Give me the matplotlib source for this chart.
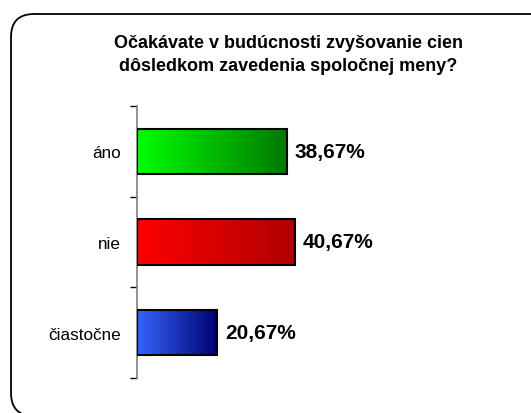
import numpy as np
import matplotlib
matplotlib.use("Agg")
import matplotlib.pyplot as plt
from matplotlib.colors import LinearSegmentedColormap
from matplotlib.patches import FancyBboxPatch

plt.rcParams['font.family'] = ['Liberation Sans', 'DejaVu Sans']

# Data
categories = ['áno', 'nie', 'čiastočne']
values = [38.67, 40.67, 20.67]
labels = ['38,67%', '40,67%', '20,67%']
grad_colors = [('#00FF00', '#007800'),
               ('#FF0000', '#B00000'),
               ('#3366FF', '#000070')]
title = 'Očakávate v budúcnosti zvyšovanie cien\ndôsledkom zavedenia spoločnej meny?'

W, H = 531, 414
fig = plt.figure(figsize=(W / 100, H / 100), dpi=100)

# rounded frame (partly cut off at right and bottom), in pixels
frame = FancyBboxPatch((11, -3), 545, 402,
                       boxstyle="round,pad=0,rounding_size=23",
                       transform=None, facecolor='none',
                       edgecolor='black', linewidth=1.3,
                       clip_on=False, zorder=-1)
fig.add_artist(frame)

ax = fig.add_axes([137 / W, 35 / H, 388 / W, 272 / H])
ax.patch.set_alpha(0)

y = np.arange(len(categories))
bars = ax.barh(y, values, height=0.5, facecolor='none',
               edgecolor='black', linewidth=1.5, zorder=3)

grad = np.linspace(0, 1, 256).reshape(1, -1)
for bar, val, (c0, c1) in zip(bars, values, grad_colors):
    cmap = LinearSegmentedColormap.from_list('g', [c0, c1])
    yc = bar.get_y()
    im = ax.imshow(grad, cmap=cmap, aspect='auto', zorder=2,
                   extent=[0, val, yc, yc + bar.get_height()])
    im.set_clip_path(bar)

for yi, val, lab in zip(y, values, labels):
    ax.text(val + 2.0, yi, lab, va='center', ha='left',
            fontsize=15, fontweight='bold')

ax.set_xlim(0, 100)
ax.set_ylim(2.5, -0.5)
ax.set_yticks(y)
ax.set_yticklabels(categories, fontsize=12.3)
ax.set_yticks(np.arange(-0.5, len(categories), 1.0), minor=True)
ax.tick_params(axis='y', which='major', length=0, pad=11.5)
ax.tick_params(axis='y', which='minor', length=5, width=1, color='black')
ax.set_xticks([])
for s in ['top', 'right', 'bottom']:
    ax.spines[s].set_visible(False)
ax.spines['left'].set_color('#808080')
ax.spines['left'].set_linewidth(1.2)

fig.text(288 / W, 1 - 55 / H, title, ha='center', va='center',
         fontsize=13, fontweight='bold', linespacing=1.5)

fig.savefig('out.png', dpi=100)
